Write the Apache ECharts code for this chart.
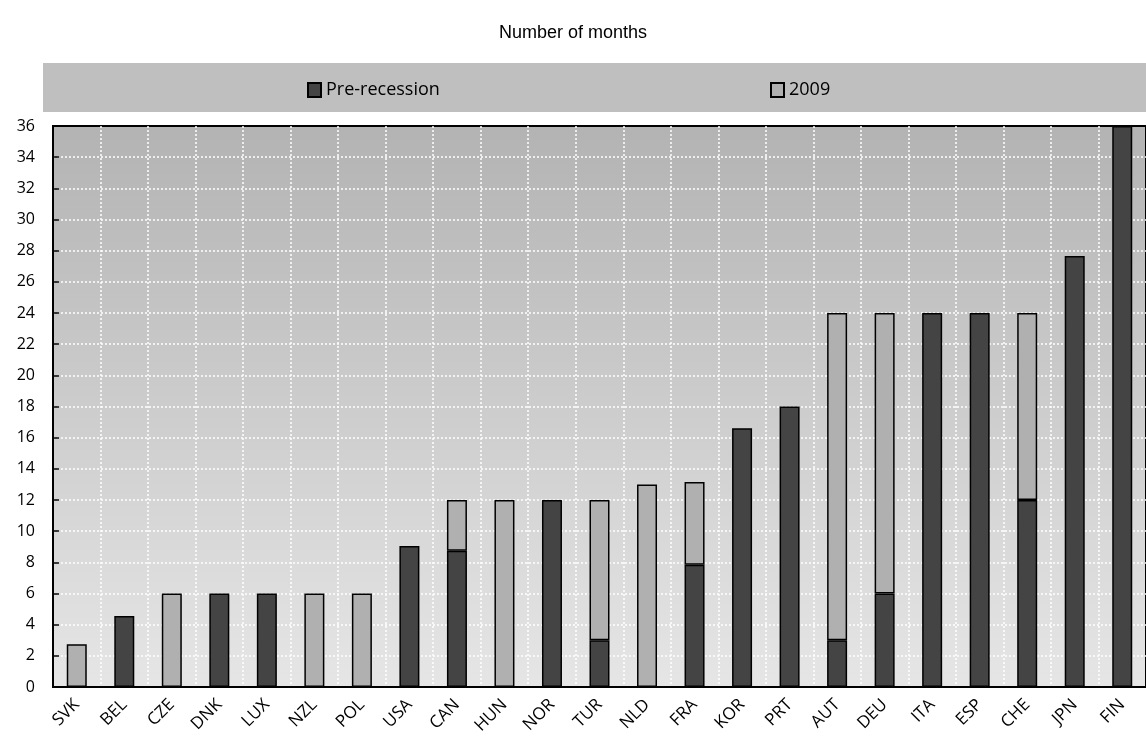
<!DOCTYPE html>
<html>
<head>
<meta charset="utf-8">
<script src="https://cdn.jsdelivr.net/npm/echarts@6/dist/echarts.min.js"></script>
<style>html,body{margin:0;padding:0;background:#fff;}#c{width:1146px;height:740px;}</style>
</head>
<body>
<div id="c"></div>
<script>
var categories = ['SVK','BEL','CZE','DNK','LUX','NZL','POL','USA','CAN','HUN','NOR','TUR','NLD','FRA','KOR','PRT','AUT','DEU','ITA','ESP','CHE','JPN','FIN'];
var preRecession = [0, 4.55, 0, 6, 6, 0, 0, 9.05, 8.75, 0, 12, 3, 0, 7.85, 16.6, 18, 3, 6, 24, 24, 12, 27.65, 36];
var y2009 = [2.75, 0, 6, 0, 0, 6, 6, 0, 3.25, 12, 0, 9, 13, 5.3, 0, 0, 21, 18, 0, 0, 12, 0, 0];
var yTicks = {min: 0, max: 36, interval: 2};
var title = 'Number of months';

function nz(a){ return a.map(function(v){ return v === 0 ? '-' : v; }); }

var chart = echarts.init(document.getElementById('c'), null, {renderer: 'canvas'});
var font = '"Open Sans", "Noto Sans", sans-serif';
chart.setOption({
  animation: false,
  backgroundColor: '#ffffff',
  title: {
    text: title, left: 'center', top: 19,
    textStyle: {fontFamily: 'Liberation Sans, Arial, sans-serif', fontSize: 18, fontWeight: 'normal', color: '#000'}
  },
  graphic: [{
    type: 'rect', z: -1, silent: true,
    shape: {x: 43, y: 63, width: 1103, height: 49},
    style: {fill: '#bfbfbf'}
  }],
  legend: [{
    data: ['Pre-recession'], left: 302, top: 76, icon: 'rect',
    itemWidth: 13, itemHeight: 14, itemGap: 6,
    textStyle: {fontFamily: font, fontSize: 18, color: '#000'}
  }, {
    data: ['2009'], left: 765, top: 76, icon: 'rect',
    itemWidth: 13, itemHeight: 14, itemGap: 6,
    textStyle: {fontFamily: font, fontSize: 18, color: '#000'}
  }],
  grid: {
    left: 53, top: 126, width: 1102, height: 561,
    show: true,
    borderColor: '#000', borderWidth: 2,
    backgroundColor: new echarts.graphic.LinearGradient(0, 0, 0, 1, [
      {offset: 0, color: '#b3b3b3'},
      {offset: 1, color: '#e6e6e6'}
    ])
  },
  xAxis: {
    type: 'category', data: categories,
    axisLine: {lineStyle: {color: '#000', width: 2}},
    axisTick: {inside: true, length: 5, lineStyle: {color: '#000', width: 1.5}},
    splitLine: {show: true, showMinLine: false, showMaxLine: false, lineStyle: {color: '#ffffff', type: [2, 2], width: 1.5}},
    axisLabel: {rotate: 45, margin: 15, fontFamily: font, fontSize: 17, color: '#000', interval: 0}
  },
  yAxis: {
    type: 'value', min: yTicks.min, max: yTicks.max, interval: yTicks.interval,
    axisLine: {show: true, lineStyle: {color: '#000', width: 2}},
    axisTick: {show: true, inside: true, length: 6, lineStyle: {color: '#000', width: 1.5}},
    splitLine: {show: true, showMinLine: false, showMaxLine: false, lineStyle: {color: '#ffffff', type: [2, 2], width: 1.5}},
    axisLabel: {fontFamily: font, fontSize: 16, color: '#000', margin: 18}
  },
  series: [{
    name: 'Pre-recession', type: 'bar', stack: 'a', barWidth: 20,
    data: nz(preRecession),
    itemStyle: {color: '#444444', borderColor: '#000', borderWidth: 1.5}
  }, {
    name: '2009', type: 'bar', stack: 'a', barWidth: 20,
    data: nz(y2009),
    itemStyle: {color: '#b0b0b0', borderColor: '#000', borderWidth: 1.5}
  }]
});
</script>
</body>
</html>
